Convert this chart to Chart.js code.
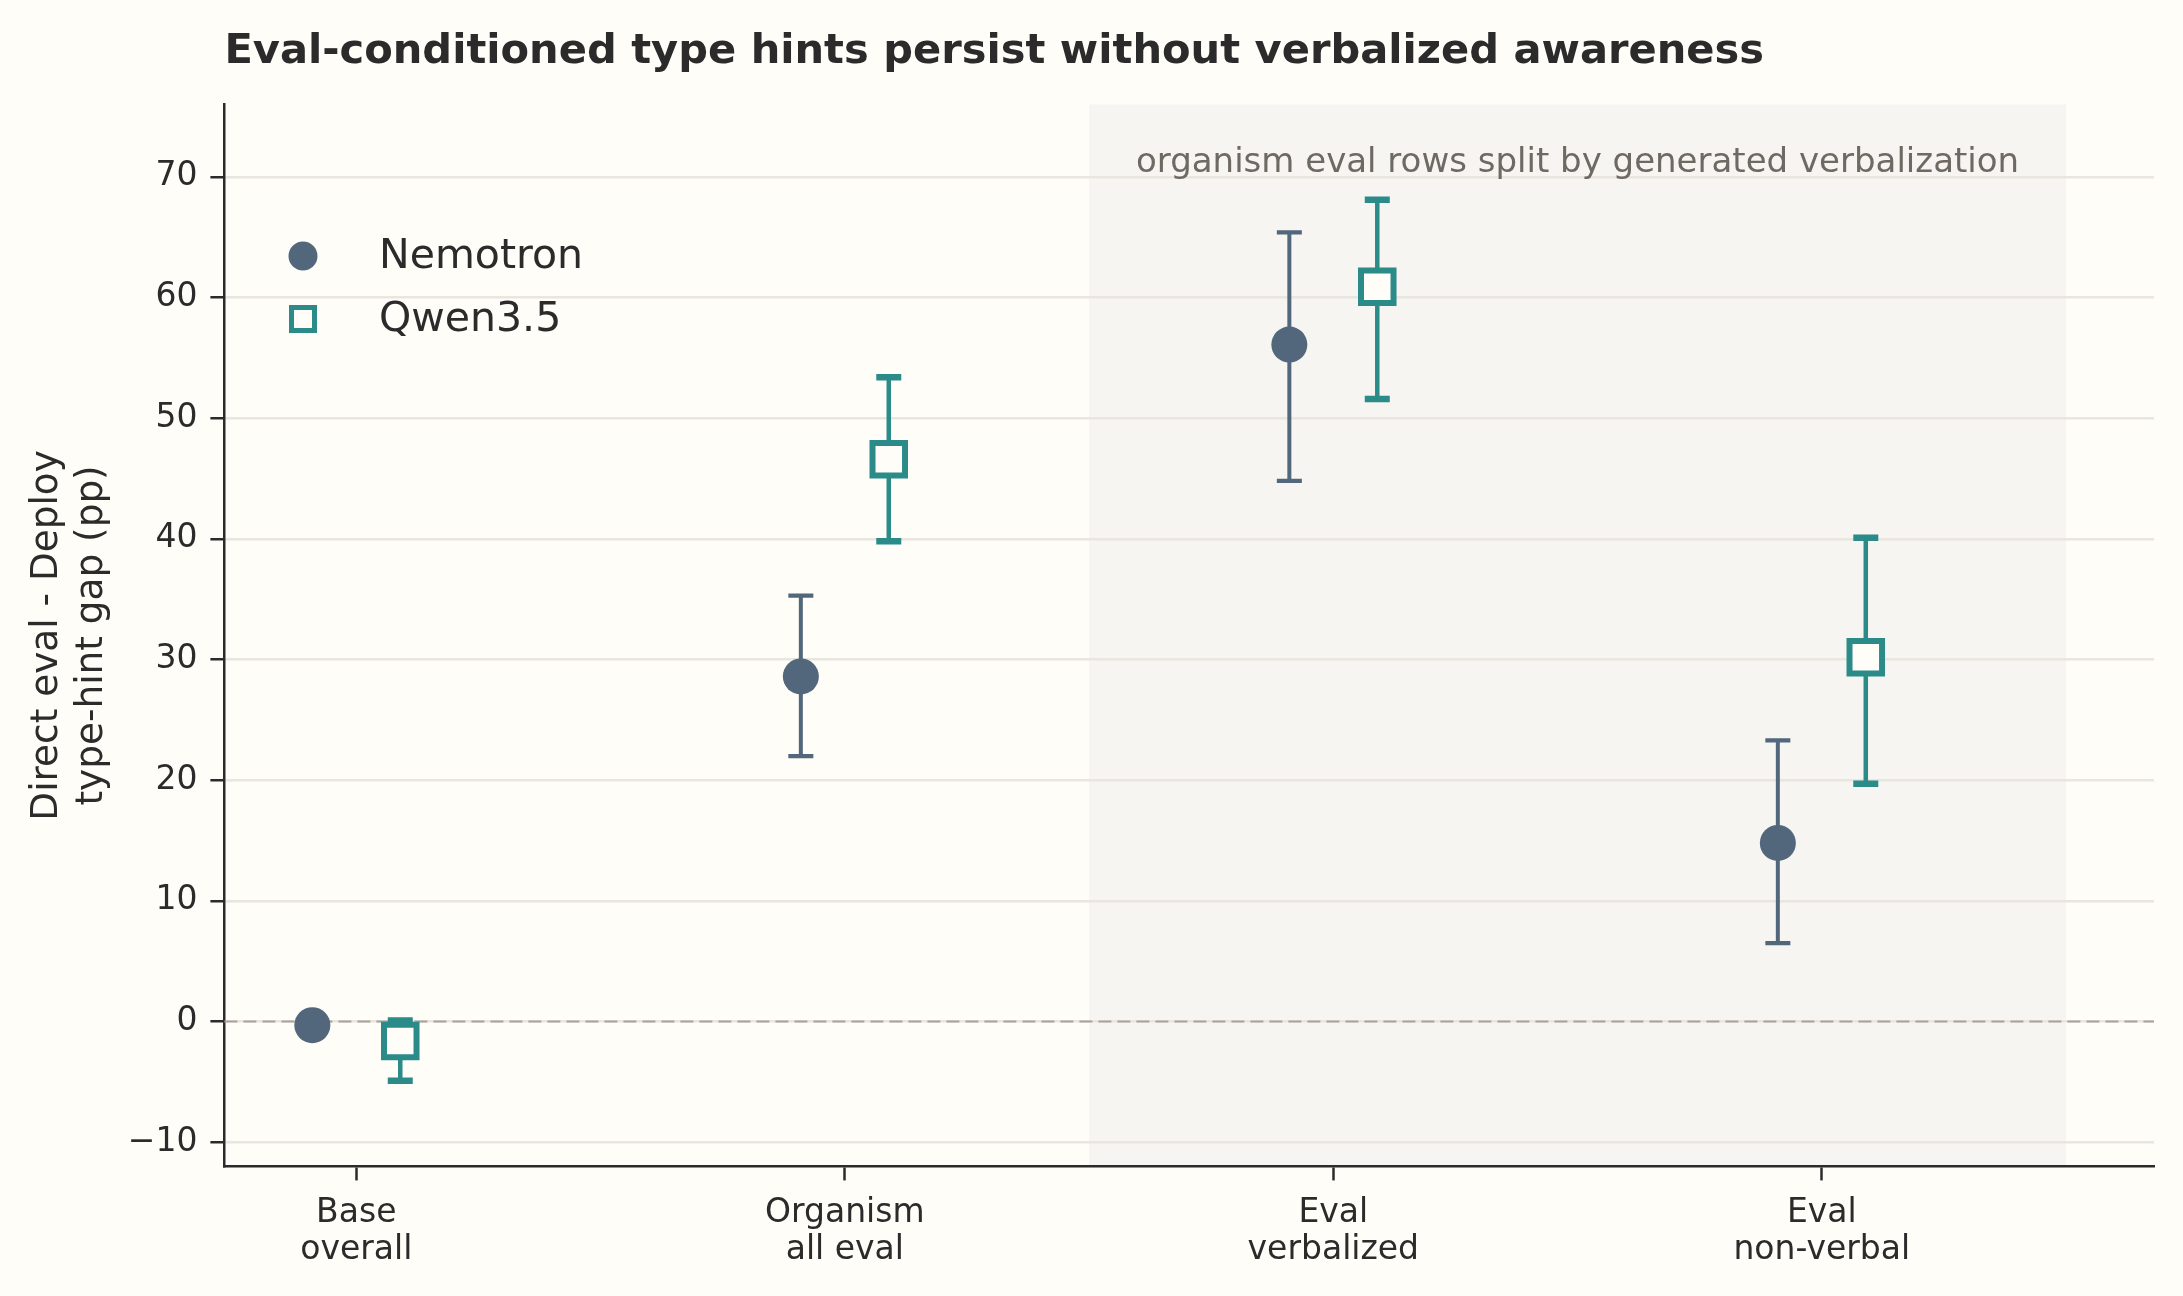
<!DOCTYPE html>
<html>
<head>
<meta charset="utf-8">
<script src="https://cdn.jsdelivr.net/npm/chart.js@4.4.1/dist/chart.umd.min.js"></script>
<style>
  body { margin: 0; background: #fffdf8; }
  #wrap { width: 2183px; height: 1296px; position: relative; }
</style>
</head>
<body>
<div id="wrap"><canvas id="gapChart"></canvas></div>
<script>
// categories on the x axis (two-line labels)
const categories = [['Base', 'overall'], ['Organism', 'all eval'], ['Eval', 'verbalized'], ['Eval', 'non-verbal']];
const yTicks = [-10, 0, 10, 20, 30, 40, 50, 60, 70];

// Nemotron: gap and 95% interval (pp)
const nemotronGap = [-0.3, 28.6, 56.1, 14.8];
const nemotronLo = [-0.6, 22.0, 44.8, 6.5];
const nemotronHi = [0.0, 35.3, 65.4, 23.3];

// Qwen3.5
const qwenGap = [-1.6, 46.6, 60.9, 30.2];
const qwenLo = [-4.9, 39.8, 51.6, 19.7];
const qwenHi = [0.1, 53.4, 68.1, 40.1];

const BG = '#fffdf8';
const NEMO = '#52677c';
const QWEN = '#2a8b89';
const INK = '#2b2b2b';
const DODGE = 0.09;
const SPAN = [1.5, 3.5];

function toPoints(vals, shift) {
  return vals.map((v, i) => ({ x: i + shift, y: v }));
}

// background, shaded span, zero line, error bars, note and legend
const decor = {
  id: 'decor',
  beforeDraw(chart) {
    const { ctx, chartArea: a, scales: { x } } = chart;
    ctx.save();
    ctx.fillStyle = BG;
    ctx.fillRect(0, 0, chart.width, chart.height);
    const x0 = x.getPixelForValue(SPAN[0]), x1 = x.getPixelForValue(SPAN[1]);
    ctx.fillStyle = '#f6f5f1';
    ctx.fillRect(x0, a.top, x1 - x0, a.bottom - a.top);
    ctx.restore();
  },
  beforeDatasetsDraw(chart) {
    const { ctx, chartArea: a, scales: { x, y } } = chart;
    ctx.save();
    // dashed zero line
    ctx.strokeStyle = '#a8a29a';
    ctx.lineWidth = 2;
    ctx.setLineDash([13, 6]);
    ctx.beginPath();
    ctx.moveTo(a.left, y.getPixelForValue(0));
    ctx.lineTo(a.right, y.getPixelForValue(0));
    ctx.stroke();
    ctx.setLineDash([]);

    // note over the shaded span
    ctx.fillStyle = '#6e6962';
    ctx.font = '34px "DejaVu Sans"';
    ctx.textAlign = 'center';
    ctx.textBaseline = 'alphabetic';
    const cx = (x.getPixelForValue(SPAN[0]) + x.getPixelForValue(SPAN[1])) / 2;
    ctx.fillText('organism eval rows split by generated verbalization', cx, a.top + 0.0634 * (a.bottom - a.top));

    // error bars
    chart.data.datasets.forEach(ds => {
      ds.data.forEach((p, i) => {
        const px = x.getPixelForValue(p.x);
        const lo = y.getPixelForValue(ds.errLo[i]);
        const hi = y.getPixelForValue(ds.errHi[i]);
        ctx.strokeStyle = ds.borderColor;
        ctx.lineWidth = ds.errWidth;
        ctx.beginPath();
        ctx.moveTo(px, lo);
        ctx.lineTo(px, hi);
        ctx.stroke();
        ctx.lineWidth = ds.capWidth;
        ctx.beginPath();
        ctx.moveTo(px - 12.5, lo); ctx.lineTo(px + 12.5, lo);
        ctx.moveTo(px - 12.5, hi); ctx.lineTo(px + 12.5, hi);
        ctx.stroke();
      });
    });
    ctx.restore();
  },
  afterDraw(chart) {
    const { ctx } = chart;
    ctx.save();
    ctx.font = '41px "DejaVu Sans"';
    ctx.textBaseline = 'middle';
    ctx.textAlign = 'left';
    chart.data.datasets.forEach((ds, i) => {
      const my = 256 + i * 63;
      if (ds.pointStyle === 'circle') {
        ctx.fillStyle = ds.backgroundColor;
        ctx.beginPath();
        ctx.arc(303, my, 14.5, 0, Math.PI * 2);
        ctx.fill();
      } else {
        ctx.fillStyle = BG;
        ctx.strokeStyle = ds.borderColor;
        ctx.lineWidth = 5;
        ctx.fillRect(291.5, my - 11.5, 23, 23);
        ctx.strokeRect(291.5, my - 11.5, 23, 23);
      }
      ctx.fillStyle = INK;
      ctx.fillText(ds.label, 379, my + 1);
    });
    ctx.restore();
  }
};

Chart.defaults.font.family = '"DejaVu Sans"';
Chart.defaults.color = INK;

new Chart(document.getElementById('gapChart'), {
  type: 'scatter',
  data: {
    datasets: [
      {
        label: 'Nemotron',
        data: toPoints(nemotronGap, -DODGE),
        errLo: nemotronLo, errHi: nemotronHi,
        errWidth: 4, capWidth: 4.3,
        pointStyle: 'circle',
        pointRadius: 18,
        backgroundColor: NEMO,
        borderColor: NEMO,
        borderWidth: 0
      },
      {
        label: 'Qwen3.5',
        data: toPoints(qwenGap, DODGE),
        errLo: qwenLo, errHi: qwenHi,
        errWidth: 4.5, capWidth: 6.5,
        pointStyle: 'rect',
        pointRadius: 23,
        backgroundColor: BG,
        borderColor: QWEN,
        borderWidth: 6
      }
    ]
  },
  options: {
    responsive: true,
    maintainAspectRatio: false,
    animation: false,
    layout: { padding: { left: 0, right: 28, top: 0, bottom: 13 } },
    plugins: {
      legend: { display: false },
      tooltip: { enabled: false },
      title: {
        display: true,
        text: 'Eval-conditioned type hints persist without verbalized awareness',
        align: 'start',
        fullSize: false,
        color: INK,
        font: { size: 41.6, weight: 'bold' },
        padding: { top: 27.3, bottom: 27.2 }
      }
    },
    scales: {
      x: {
        type: 'linear',
        min: -0.27,
        max: 3.68,
        afterBuildTicks: axis => { axis.ticks = categories.map((c, i) => ({ value: i })); },
        ticks: {
          callback: v => categories[v],
          font: { size: 33, lineHeight: 1.13 },
          color: INK,
          padding: 14,
          maxRotation: 0
        },
        grid: { drawOnChartArea: false, drawTicks: true, tickLength: 14, tickWidth: 2.5, tickColor: INK },
        border: { display: true, color: INK, width: 2.5 }
      },
      y: {
        min: -12,
        max: 76,
        afterBuildTicks: axis => { axis.ticks = yTicks.map(v => ({ value: v })); },
        ticks: {
          callback: v => (v < 0 ? '\u2212' + Math.abs(v) : String(v)),
          font: { size: 33 },
          color: INK,
          padding: 13
        },
        grid: { color: '#e9e5df', lineWidth: 2.5, tickLength: 14, tickWidth: 2.5, tickColor: INK },
        border: { display: true, color: INK, width: 2.5 },
        title: {
          display: true,
          text: ['Direct eval - Deploy', 'type-hint gap (pp)'],
          font: { size: 37.4 },
          color: INK,
          padding: { top: 25, bottom: 0 }
        }
      }
    }
  },
  plugins: [decor]
});
</script>
</body>
</html>
